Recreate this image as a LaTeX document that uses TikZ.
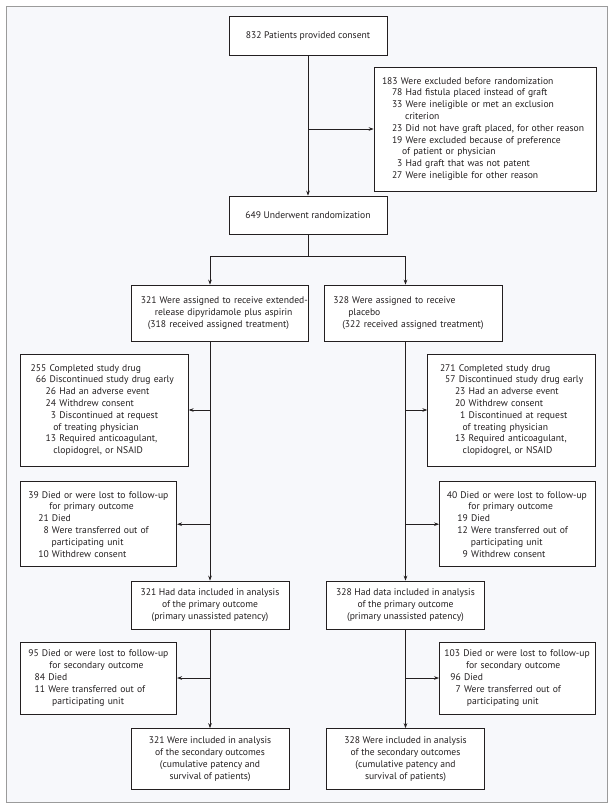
\documentclass[tikz,border=0pt]{standalone}
\usepackage{fontspec}
\setmainfont{PT Sans}
\usetikzlibrary{arrows.meta}
\definecolor{bg}{HTML}{F7F8FB}
\definecolor{framec}{HTML}{9B9B9B}
\definecolor{ink}{HTML}{231F20}
\newcommand\fs{\fontsize{9.6pt}{11.8pt}\selectfont}
\newcommand\ind[1]{\hspace*{#1pt}}
\begin{document}
\begin{tikzpicture}[x=1pt,y=-1pt,
  bx/.style={draw=ink, fill=white, line width=0.7pt, font=\fs, text=ink, inner xsep=0pt, inner ysep=0pt},
  lbox/.style={bx, align=left},
  cbox/.style={bx, align=center},
  conn/.style={draw=ink, line width=0.7pt},
  arr/.style={conn, -{Stealth[length=5pt,width=3.6pt]}}
]
\path[use as bounding box] (0,0) rectangle (615,810);
\draw[framec, line width=1.6pt, fill=bg] (6.5,6.5) rectangle (607.5,802.5);

\node[cbox, minimum width=158pt, minimum height=39pt] (a) at (308,36) {832 Patients provided consent};

\node[lbox, text width=222pt, minimum height=124pt] (excl) at (485,129) {%
\ind{8}183 Were excluded before randomization\\
\ind{18}78 Had fistula placed instead of graft\\
\ind{18}33 Were ineligible or met an exclusion\\
\ind{31}criterion\\
\ind{18}23 Did not have graft placed, for other reason\\
\ind{18}19 Were excluded because of preference\\
\ind{28}of patient or physician\\
\ind{18}\hphantom{0}3 Had graft that was not patent\\
\ind{18}27 Were ineligible for other reason};

\node[cbox, minimum width=158pt, minimum height=38pt] (b) at (308,215) {649 Underwent randomization};

\node[lbox, text width=177pt, minimum height=56pt] (l1) at (220.3,313) {%
\ind{9}321 Were assigned to receive extended-\\
\ind{23}release dipyridamole plus aspirin\\
\ind{16}(318 received assigned treatment)};
\node[lbox, text width=178pt, minimum height=56pt] (r1) at (413.3,313) {%
\ind{9}328 Were assigned to receive\\
\ind{24}placebo\\
\ind{18}(322 received assigned treatment)};

\node[lbox, text width=167.6pt, minimum height=112pt] (l2) at (104.5,410) {%
\ind{10}255 Completed study drug\\
\ind{10}\hphantom{0}66 Discontinued study drug early\\
\ind{25}26 Had an adverse event\\
\ind{25}24 Withdrew consent\\
\ind{25}\hphantom{0}3 Discontinued at request\\
\ind{32.6}of treating physician\\
\ind{25}13 Required anticoagulant,\\
\ind{32.6}clopidogrel, or NSAID};
\node[lbox, text width=168pt, minimum height=112pt] (r2) at (511.7,410) {%
\ind{12.3}271 Completed study drug\\
\ind{12.3}\hphantom{0}57 Discontinued study drug early\\
\ind{27.3}23 Had an adverse event\\
\ind{27.3}20 Withdrew consent\\
\ind{27.3}\hphantom{0}1 Discontinued at request\\
\ind{35}of treating physician\\
\ind{27.3}13 Required anticoagulant,\\
\ind{35}clopidogrel, or NSAID};

\node[lbox, text width=156pt, minimum height=85pt] (l3) at (98.7,524.2) {%
\ind{7.6}39 Died or were lost to follow-up\\
\ind{28.6}for primary outcome\\
\ind{17.6}21 Died\\
\ind{17.6}\hphantom{0}8 Were transferred out of\\
\ind{31}participating unit\\
\ind{17.6}10 Withdrew consent};
\node[lbox, text width=156pt, minimum height=85pt] (r3) at (517.4,524.2) {%
\ind{7.4}40 Died or were lost to follow-up\\
\ind{29}for primary outcome\\
\ind{18}19 Died\\
\ind{18}12 Were transferred out of\\
\ind{31.4}participating unit\\
\ind{18}\hphantom{0}9 Withdrew consent};

\node[cbox, minimum width=158pt, minimum height=48pt] (l4) at (210,605) {321 Had data included in analysis\\of the primary outcome\\(primary unassisted patency)};
\node[cbox, minimum width=158pt, minimum height=48pt] (r4) at (405.5,605) {328 Had data included in analysis\\of the primary outcome\\(primary unassisted patency)};

\node[lbox, text width=156pt, minimum height=72pt] (l5) at (98.7,678) {%
\ind{7.6}95 Died or were lost to follow-up\\
\ind{28.6}for secondary outcome\\
\ind{14}84 Died\\
\ind{14}11 Were transferred out of\\
\ind{31.5}participating unit};
\node[lbox, text width=156pt, minimum height=72pt] (r5) at (517.4,678) {%
\ind{5}103 Died or were lost to follow-up\\
\ind{26.7}for secondary outcome\\
\ind{11}96 Died\\
\ind{11}\hphantom{0}7 Were transferred out of\\
\ind{27.4}participating unit};

\node[cbox, minimum width=158pt, minimum height=61pt] (l6) at (210,759) {321 Were included in analysis\\of the secondary outcomes\\(cumulative patency and\\survival of patients)};
\node[cbox, minimum width=158pt, minimum height=61pt] (r6) at (405.5,759) {328 Were included in analysis\\of the secondary outcomes\\(cumulative patency and\\survival of patients)};

% connectors
\draw[arr] (a.south) -- (b.north);
\draw[arr] (a.south |- excl.west) -- (excl.west);
\coordinate (br) at (308,256);
\coordinate (lc) at (210,256);
\coordinate (rc) at (405.5,256);
\draw[conn] (b.south) -- (br);
\draw[conn] (lc) -- (rc);
\draw[arr] (lc) -- (lc |- l1.north);
\draw[arr] (rc) -- (rc |- r1.north);
\draw[arr] (lc |- l1.south) -- (l4.north);
\draw[arr] (rc |- r1.south) -- (r4.north);
\draw[arr] (lc |- l2.east) -- (l2.east);
\draw[arr] (rc |- r2.west) -- (r2.west);
\draw[arr] (lc |- l3.east) -- (l3.east);
\draw[arr] (rc |- r3.west) -- (r3.west);
\draw[arr] (l4.south) -- (l6.north);
\draw[arr] (r4.south) -- (r6.north);
\draw[arr] (l4.south |- l5.east) -- (l5.east);
\draw[arr] (r4.south |- r5.west) -- (r5.west);
\end{tikzpicture}
\end{document}
